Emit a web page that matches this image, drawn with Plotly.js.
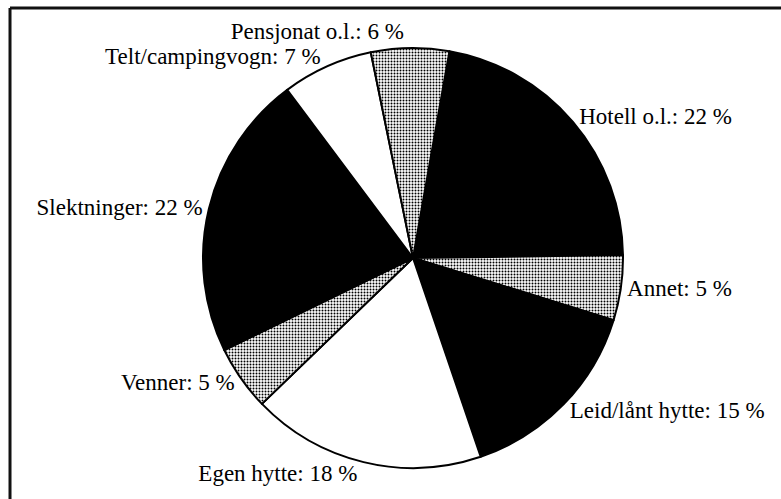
<!DOCTYPE html>
<html>
<head>
<meta charset="utf-8">
<script src="https://cdn.plot.ly/plotly-3.0.1.min.js"></script>
<style>
  html, body { margin: 0; padding: 0; background: #ffffff; }
  #chart { width: 781px; height: 499px; }
  #chart path.textline { stroke-opacity: 0 !important; }
</style>
</head>
<body>
<div id="chart"></div>
<script>
// Data (percent), clockwise order starting just right of 12 o'clock
const categories = ["Hotell o.l.", "Annet", "Leid/lånt hytte", "Egen hytte", "Venner", "Slektninger", "Telt/campingvogn", "Pensjonat o.l."];
const shares = [22, 5, 15, 18, 5, 22, 7, 6];
const fills = ["black", "white", "black", "white", "white", "black", "white", "white"];
const patterns = ["", ".", "", "", ".", "", "", "."];

const trace = {
  type: "pie",
  labels: categories,
  values: shares,
  sort: false,
  direction: "clockwise",
  rotation: 10,
  textposition: "outside",
  texttemplate: "%{label}: %{value} %",
  hoverinfo: "label+value",
  outsidetextfont: { family: "Liberation Serif, Times New Roman, serif", size: 23, color: "#000000" },
  marker: {
    colors: fills,
    line: { color: "#000000", width: 2 },
    pattern: {
      shape: patterns,
      fgcolor: "#000000",
      bgcolor: "#ffffff",
      size: 3,
      solidity: 0.35
    }
  },
  showlegend: false
};

const layout = {
  width: 781,
  height: 499,
  margin: { l: 203, r: 158, t: 48, b: 31 },
  paper_bgcolor: "#ffffff",
  plot_bgcolor: "#ffffff",
  showlegend: false,
  font: { family: "Liberation Serif, Times New Roman, serif", color: "#000000" },
  shapes: [
    { type: "line", xref: "paper", yref: "paper", x0: -0.4595, x1: -0.4595, y0: 1.0952, y1: -0.1, line: { color: "#111111", width: 3 } },
    { type: "line", xref: "paper", yref: "paper", x0: -0.4595, x1: 1.4, y0: 1.0952, y1: 1.0952, line: { color: "#111111", width: 3 } }
  ]
};

Plotly.newPlot("chart", [trace], layout, { displayModeBar: false, staticPlot: true });
</script>
</body>
</html>
